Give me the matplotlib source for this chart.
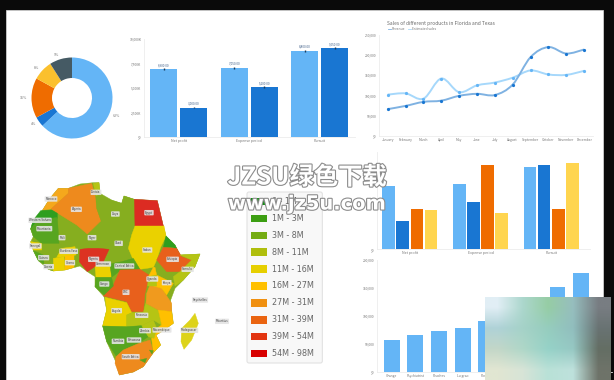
import numpy as np
import matplotlib
matplotlib.use('Agg')
import matplotlib.pyplot as plt
import matplotlib.patheffects as pe
from matplotlib.patches import Polygon, Rectangle, FancyBboxPatch, PathPatch
from matplotlib.path import Path

plt.rcParams['font.family'] = ['Noto Sans CJK SC', 'DejaVu Sans']

W, H = 614, 380

# donut
donut_vals = [63, 4, 16, 8, 9]
donut_labels = ['63%', '4%', '16%', '8%', '9%']

# two-bar chart
groups = ['Net profit', 'Expense period', 'Pursuit']
rev_vals = [6900, 7050, 8800]
cost_vals = [3000, 5100, 9050]
bar_labels1 = ['6,900.00', '7,050.00', '8,800.00']
bar_labels2 = ['3,000.00', '5,100.00', '9,050.00']
bar_ticks = [0, 2500, 5000, 7500, 10000]
bar_ticklabels = ['$0', '2,500K', '5,000K', '7,500K', '10,000K']

# line chart
months = ['January', 'February', 'March', 'April', 'May', 'June', 'July',
          'August', 'September', 'October', 'November', 'December']
revenue = [66, 74, 84, 87, 99, 104, 101, 127, 195, 220, 204, 214]
estimated = [102, 105, 92, 142, 108, 125, 132, 144, 162, 152, 151, 161]
line_ticks = [0, 50, 100, 150, 200, 250]
line_ticklabels = ['$0', '50,000', '100,000', '150,000', '200,000', '250,000']

# four-bar chart
four_a = [6520, 6720, 8460]
four_b = [2900, 4850, 8670]
four_c = [4160, 8600, 4160]
four_d = [4030, 3750, 8870]

# single series chart
prod_names = ['Orange', 'Psychiatrist', 'Peaches', 'La grao', 'Pomelo',
              'Plum', 'Apples', 'Pears', 'Grapes']
prod_vals = [56.7, 66, 73, 78, 91, 105, 128, 152, 178]
prod_ticks = [0, 50, 100, 150, 200]
prod_ticklabels = ['$0', '50,000', '100,000', '150,000', '200,000']

# map: outline and countries (in reference crop units)
africa = [(205, 85), (240, 72), (280, 68), (297, 68), (300, 100), (335, 120), (365, 130), (372, 108),
          (403, 118), (472, 122), (490, 198), (498, 228), (525, 255), (540, 285), (600, 282), (585, 320),
          (550, 360), (525, 385), (512, 420), (515, 450), (520, 490), (485, 515), (468, 525), (482, 555),
          (460, 578), (430, 620), (400, 636), (358, 645), (345, 600), (320, 545), (308, 498), (320, 450),
          (312, 410), (285, 380), (285, 350), (262, 335), (240, 318), (195, 330), (160, 333), (145, 328),
          (115, 302), (100, 272), (92, 245), (100, 230), (92, 207), (100, 180), (128, 150), (150, 115), (175, 85)]
countries = [
    ('#F5A81C', [(205, 85), (175, 85), (150, 115), (128, 150), (153, 147), (205, 100)]),
    ('#EE8A1D', [(205, 85), (275, 70), (285, 105), (290, 145), (303, 182), (262, 222), (230, 195), (153, 147), (205, 100)]),
    ('#B5C414', [(280, 70), (297, 68), (300, 100), (288, 108)]),
    ('#86AE1F', [(288, 108), (330, 120), (365, 130), (372, 108), (403, 118), (405, 198), (395, 225), (335, 190), (303, 182), (290, 145)]),
    ('#DC2B22', [(403, 118), (472, 122), (490, 198), (405, 198)]),
    ('#2F9E1F', [(122, 152), (155, 150), (172, 160), (172, 175), (112, 182), (92, 207), (100, 180)]),
    ('#57A520', [(112, 182), (172, 172), (177, 250), (125, 250), (100, 230), (92, 207)]),
    ('#EAD100', [(405, 198), (492, 198), (498, 228), (482, 262), (470, 300), (460, 322), (420, 328), (400, 300), (385, 265), (395, 225)]),
    ('#2F9E1F', [(498, 228), (525, 255), (540, 285), (520, 262), (490, 262)]),
    ('#E8601C', [(490, 262), (530, 265), (545, 290), (575, 300), (540, 335), (500, 335), (470, 300)]),
    ('#B5C414', [(540, 285), (600, 282), (585, 320), (550, 360), (525, 378), (520, 350), (540, 335), (575, 300)]),
    ('#DC3322', [(240, 268), (265, 265), (295, 265), (327, 268), (308, 310), (285, 320), (262, 335), (238, 305)]),
    ('#EAD100', [(285, 320), (308, 310), (330, 320), (335, 352), (288, 352)]),
    ('#57A520', [(330, 312), (365, 305), (400, 295), (420, 328), (360, 332), (335, 352)]),
    ('#E8601C', [(360, 330), (420, 328), (447, 345), (445, 360), (435, 400), (430, 455), (395, 455), (380, 425), (310, 408), (340, 375)]),
    ('#57A520', [(288, 352), (335, 352), (340, 378), (312, 405), (285, 380)]),
    ('#EAD100', [(315, 412), (380, 428), (395, 458), (380, 465), (380, 500), (308, 498), (320, 450)]),
    ('#B5C414', [(380, 465), (395, 458), (430, 458), (437, 430), (475, 450), (485, 495), (460, 480), (425, 497), (380, 500)]),
    ('#F09A1E', [(450, 375), (485, 385), (515, 430), (515, 455), (475, 450), (438, 430), (440, 400)]),
    ('#FFC000', [(465, 322), (470, 345), (520, 370), (500, 405), (485, 385), (450, 375), (445, 350), (460, 322)]),
    ('#B5C414', [(445, 350), (470, 345), (470, 378), (443, 378)]),
    ('#FFC000', [(475, 450), (515, 455), (520, 490), (485, 515), (468, 525), (482, 555), (460, 578), (455, 535), (470, 505), (485, 495)]),
    ('#57A520', [(308, 498), (380, 500), (425, 497), (445, 530), (412, 552), (370, 570), (350, 590), (320, 545)]),
    ('#B5C414', [(425, 497), (460, 480), (470, 505), (462, 535), (445, 530)]),
    ('#EE8A1D', [(348, 590), (370, 570), (412, 552), (450, 540), (460, 578), (430, 620), (400, 636), (358, 645), (345, 610)]),
    ('#57A520', [(420, 600), (440, 595), (435, 608)]),
    ('#57A520', [(448, 570), (460, 572), (456, 582)]),
    ('#DDD31A', [(585, 460), (595, 490), (575, 540), (552, 568), (543, 545), (545, 505), (570, 480)]),
    ('#EAD100', [(92, 245), (125, 250), (125, 270), (100, 270)]),
    ('#57A520', [(100, 272), (130, 285), (132, 312), (115, 302)]),
    ('#86AE1F', [(132, 312), (160, 300), (160, 333), (145, 328)]),
    ('#EAD100', [(160, 295), (192, 290), (195, 330), (160, 333)]),
    ('#EAD100', [(185, 265), (225, 260), (228, 285), (192, 290), (170, 292)]),
    ('#FFC000', [(195, 288), (222, 285), (222, 322), (195, 330)]),
]
map_names = [('Morocco', 153, 117), ('Algeria', 229, 148), ('Tunisia', 288, 97), ('Libya', 346, 162),
             ('Egypt', 447, 158), ('Western Sahara', 120, 181), ('Mauritania', 133, 206), ('Mali', 186, 233),
             ('Niger', 276, 233), ('Chad', 356, 250), ('Sudan', 442, 270), ('Ethiopia', 518, 298),
             ('Somalia', 563, 328), ('Nigeria', 281, 298), ('Senegal', 106, 258), ('Guinea', 131, 293),
             ('Burkina Faso', 206, 274), ('Ghana', 210, 308), ('Liberia', 146, 320), ('Cameroon', 310, 312),
             ('Central Africa', 373, 318), ('Congo', 313, 372), ('Kenya', 500, 368), ('Uganda', 457, 357),
             ('DRC', 378, 397), ('Angola', 350, 452), ('Tanzania', 425, 466), ('Zambia', 435, 512),
             ('Mozambique', 486, 510), ('Namibia', 354, 544), ('Botswana', 402, 540), ('South Africa', 392, 590),
             ('Madagascar', 568, 511), ('Seychelles', 600, 420), ('Mauritius', 666, 484)]

legend_labels = ['0 - 1M', '1M - 3M', '3M - 8M', '8M - 11M', '11M - 16M', '16M - 27M',
                 '27M - 31M', '31M - 39M', '39M - 54M', '54M - 98M']
legend_colors = ['#0F8F0F', '#3C9E12', '#74AC12', '#AFBE0C', '#E6CF00', '#FFC000',
                 '#F09010', '#EA6410', '#E23410', '#D80000']

# blurred corner patch colours
patch_colors = np.array([
    [(225, 238, 245), (172, 215, 205), (150, 205, 165), (150, 190, 190), (120, 125, 130)],
    [(175, 210, 215), (165, 210, 200), (150, 205, 190), (145, 190, 190), (105, 115, 115)],
    [(195, 215, 200), (175, 215, 200), (150, 210, 200), (150, 200, 195), (100, 110, 100)],
    [(225, 230, 210), (215, 228, 215), (185, 225, 215), (190, 225, 220), (110, 115, 105)],
]) / 255.0

LIGHT = '#64B5F6'
DARK = '#1976D2'
ORANGE = '#EF6C00'
YELLOW = '#FFD54F'
SLATE = '#455A64'
TXT = '#777777'
AXC = '#ececec'

fig = plt.figure(figsize=(W / 100, H / 100), dpi=100, facecolor='#0a0a0a')


def ax_px(x0, y0, x1, y1, **kw):
    # axes placed by reference pixels, y from the top
    return fig.add_axes([x0 / W, 1 - y1 / H, (x1 - x0) / W, (y1 - y0) / H], **kw)


def style(ax, ticks, labels):
    for s in ['top', 'right']:
        ax.spines[s].set_visible(False)
    ax.spines['left'].set_color(AXC)
    ax.spines['bottom'].set_color(AXC)
    ax.spines['left'].set_linewidth(0.6)
    ax.spines['bottom'].set_linewidth(0.6)
    ax.set_yticks(ticks)
    ax.set_yticklabels(labels, fontsize=2.4, color=TXT)
    ax.tick_params(length=0, pad=1.5)
    ax.patch.set_alpha(0)


bg = fig.add_axes([0, 0, 1, 1])
bg.set_xlim(0, W)
bg.set_ylim(H, 0)
bg.axis('off')
bg.add_patch(Rectangle((6, 10), 597, 370, fc='white', ec='#dddddd', lw=0.5))

# donut
ax = ax_px(22, 48, 122, 148)
ax.pie(donut_vals, colors=[LIGHT, DARK, ORANGE, '#FBC02D', SLATE], startangle=90, counterclock=False,
       radius=0.81, wedgeprops=dict(width=0.41, edgecolor='none'), labels=donut_labels, labeldistance=1.1,
       textprops=dict(fontsize=2.6, color=TXT))
ax.set_xlim(-1, 1)
ax.set_ylim(-1, 1)

# two-bar chart
ax = ax_px(143.5, 39, 355, 137)
x = np.arange(3)
ax.bar(x - 0.213, rev_vals, 0.38, color=LIGHT)
ax.bar(x + 0.213, cost_vals, 0.38, color=DARK)
ax.errorbar(x - 0.213, rev_vals, yerr=90, fmt='none', ecolor='#1a3b5c', lw=1.0)
ax.errorbar(x + 0.213, cost_vals, yerr=90, fmt='none', ecolor='#1a3b5c', lw=1.0)
for i in range(3):
    ax.text(i - 0.213, rev_vals[i] + 220, bar_labels1[i], ha='center', va='bottom', fontsize=2.2, color='#3b5b85')
    ax.text(i + 0.213, cost_vals[i] + 220, bar_labels2[i], ha='center', va='bottom', fontsize=2.2, color='#3b5b85')
ax.set_xlim(-0.5, 2.5)
ax.set_ylim(0, 10000)
ax.set_xticks(x)
ax.set_xticklabels(groups, fontsize=2.6, color=TXT)
style(ax, bar_ticks, bar_ticklabels)

# line chart
ax = ax_px(378.5, 35, 593, 135.7)


def smooth_path(xs, ys):
    # bezier segments through the data points
    pts = list(zip(xs, ys))
    verts = [pts[0]]
    codes = [Path.MOVETO]
    for i in range(len(pts) - 1):
        p0 = pts[max(i - 1, 0)]
        p1 = pts[i]
        p2 = pts[i + 1]
        p3 = pts[min(i + 2, len(pts) - 1)]
        c1 = (p1[0] + (p2[0] - p0[0]) / 6, p1[1] + (p2[1] - p0[1]) / 6)
        c2 = (p2[0] - (p3[0] - p1[0]) / 6, p2[1] - (p3[1] - p1[1]) / 6)
        verts += [c1, c2, p2]
        codes += [Path.CURVE4] * 3
    return Path(verts, codes)


xm = np.arange(12)
ax.add_patch(PathPatch(smooth_path(xm, estimated), fc='none', ec='#A6D8FB', lw=1.4))
ax.add_patch(PathPatch(smooth_path(xm, revenue), fc='none', ec='#7FB2E2', lw=1.4))
ax.plot(xm, estimated, ls='none', marker='o', ms=1.3, color='#64B5F6')
ax.plot(xm, revenue, ls='none', marker='o', ms=1.3, color=DARK)
ax.set_xlim(-0.52, 11.5)
ax.set_ylim(0, 250)
ax.set_xticks(xm)
ax.set_xticklabels(months, fontsize=2.4, color=TXT)
style(ax, line_ticks, line_ticklabels)
bg.text(387, 24, 'Sales of different products in Florida and Texas', fontsize=3.5, color='#666666', va='center')
bg.plot([388, 391], [29, 29], color='#7FB2E2', lw=0.6)
bg.text(392, 29, 'Revenue', fontsize=2.4, color=TXT, va='center')
bg.plot([408, 411], [29, 29], color='#A6D8FB', lw=0.6)
bg.text(412, 29, 'Estimated sales', fontsize=2.4, color=TXT, va='center')

# four-bar chart
ax = ax_px(376.7, 151.7, 590, 249.3)
x = np.arange(3)
bw = 0.18
for off, vals, col in [(-1.5, four_a, LIGHT), (-0.5, four_b, DARK), (0.5, four_c, ORANGE), (1.5, four_d, YELLOW)]:
    ax.bar(x + off * 0.2, vals, bw, color=col)
ax.set_xlim(-0.47, 2.55)
ax.set_ylim(0, 10000)
ax.set_xticks(x)
ax.set_xticklabels(groups, fontsize=2.6, color=TXT)
style(ax, [0], ['$0'])

# single series chart
ax = ax_px(376.7, 260.3, 612, 372)
xp = np.arange(9)
ax.bar(xp, prod_vals, 0.67, color=LIGHT)
ax.set_xlim(-0.63, 9.3)
ax.set_ylim(0, 200)
ax.set_xticks(xp)
ax.set_xticklabels(prod_names, fontsize=2.4, color=TXT)
style(ax, prod_ticks, prod_ticklabels)

# map
mp = ax_px(0, 160, 340, 379)
mp.set_xlim(0, 1020)
mp.set_ylim(657, 0)
mp.axis('off')
mp.patch.set_alpha(0)
mp.add_patch(Polygon(africa, closed=True, fc='#86AE1F', ec='#86AE1F', lw=0.3))
for col, pts in countries:
    mp.add_patch(Polygon(pts, closed=True, fc=col, ec=col, lw=0.3))
for name, tx, ty in map_names:
    mp.text(tx, ty, name, fontsize=2.0, color='#444444', ha='center', va='center', family='DejaVu Sans',
            bbox=dict(boxstyle='round,pad=0.25', fc='#e4e4e4', ec='none', alpha=0.9))

# map legend
mp.add_patch(FancyBboxPatch((742, 97), 224, 511, boxstyle='round,pad=1,rounding_size=6', fc='#f8f8f8', ec='#e2e2e2', lw=0.8))
for i in range(10):
    yc = 124 + i * 50.8
    mp.add_patch(Rectangle((752, yc - 11), 50, 22, fc=legend_colors[i], ec='none'))
    mp.text(815, yc, legend_labels[i], fontsize=5.8, color='#666666', va='center', family='DejaVu Sans')

# corner patch
over = fig.add_axes([485 / W, 0, 126 / W, 83 / H], zorder=5)
over.imshow(patch_colors, aspect='auto', interpolation='bilinear')
over.axis('off')

# watermark
wm = fig.add_axes([0, 0, 1, 1], zorder=6)
wm.set_xlim(0, W)
wm.set_ylim(H, 0)
wm.axis('off')
wm.patch.set_alpha(0)
stroke = [pe.withStroke(linewidth=1.6, foreground='#8c8c8c')]
wm.text(307, 177.5, 'JZSU绿色下载', fontsize=17.5, color='white', ha='center', va='center',
        fontweight='bold', path_effects=stroke)
wm.text(307, 204, 'www.jz5u.com', fontsize=14, color='white', ha='center', va='center',
        fontweight='bold', path_effects=stroke, family='DejaVu Sans')

fig.savefig('out.png', dpi=100, facecolor=fig.get_facecolor())
